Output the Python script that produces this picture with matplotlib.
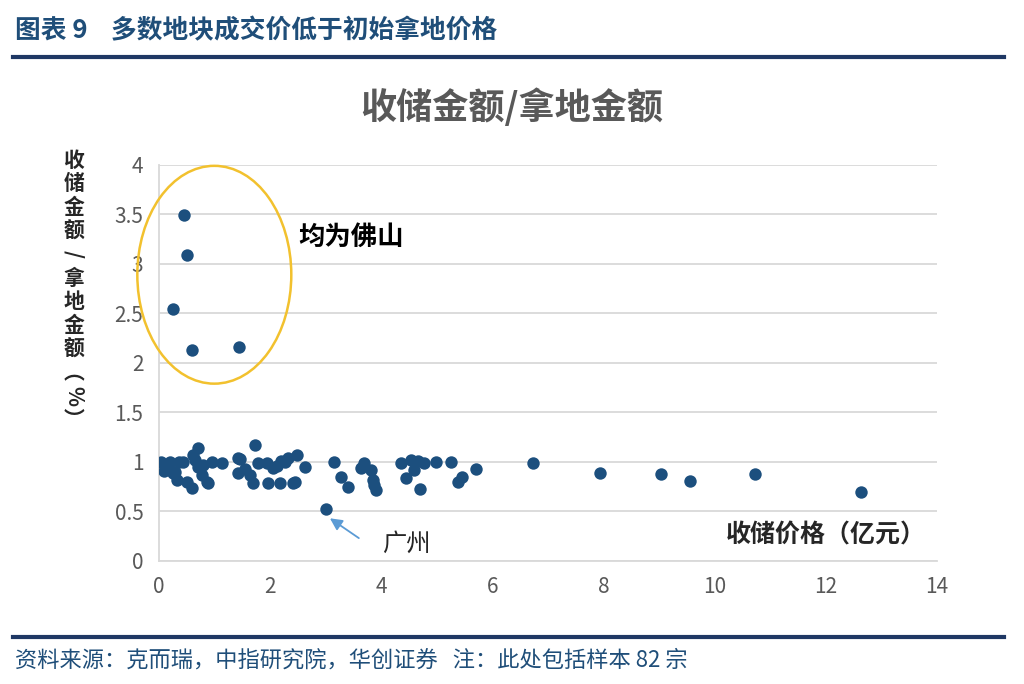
import matplotlib
matplotlib.use('Agg')
import matplotlib.pyplot as plt
from matplotlib.patches import Ellipse
from matplotlib.lines import Line2D

plt.rcParams['font.family'] = ['Noto Sans CJK SC', 'DejaVu Sans']

# 收储价格（亿元）
price = [0.45, 0.50, 0.25, 0.59, 1.44,
         0.05, 0.14, 0.20, 0.25, 0.29, 0.32, 0.36, 0.43, 0.50, 0.59,
         0.61, 0.65, 0.70, 0.70, 0.77, 0.86, 0.88, 0.95, 1.13, 1.42,
         1.46, 1.42, 1.64, 1.69, 1.73, 1.78, 1.94, 1.96, 2.05, 2.18,
         2.27, 2.32, 2.41, 2.48, 2.45, 2.63, 3.01, 3.15, 3.28, 3.40,
         3.64, 3.70, 3.82, 3.85, 3.88, 3.91, 4.36, 4.45, 4.54, 4.60,
         4.66, 4.70, 4.78, 4.99, 5.25, 5.38, 5.46, 5.70, 6.74, 7.93,
         9.03, 9.55, 10.72, 12.64, 0.10, 0.80, 1.55, 2.12, 2.20]
# 收储金额/拿地金额
ratio = [3.49, 3.09, 2.54, 2.13, 2.16,
         1.00, 0.93, 1.00, 0.89, 0.90, 0.82, 1.00, 1.00, 0.80, 0.74,
         1.07, 1.02, 1.14, 0.95, 0.87, 0.80, 0.79, 1.00, 0.99, 1.04,
         1.03, 0.89, 0.87, 0.79, 1.17, 0.99, 0.99, 0.79, 0.94, 0.79,
         1.00, 1.04, 0.79, 1.07, 0.80, 0.95, 0.52, 1.00, 0.85, 0.75,
         0.94, 0.99, 0.92, 0.82, 0.77, 0.72, 0.99, 0.84, 1.02, 0.92,
         1.01, 0.73, 0.99, 1.00, 1.00, 0.80, 0.85, 0.93, 0.99, 0.89,
         0.88, 0.81, 0.88, 0.70, 0.91, 0.97, 0.93, 0.96, 1.01]

x_ticks = [0, 2, 4, 6, 8, 10, 12, 14]
y_ticks = [0, 0.5, 1, 1.5, 2, 2.5, 3, 3.5, 4]
y_label = ['收', '储', '金', '额', '/', '拿', '地', '金', '额', '︵', '%', '︶']

navy = '#1f4e79'
dot = '#1c4f7e'
gray = '#595959'

fig = plt.figure(figsize=(10.24, 6.84), dpi=100)

# 表头与页脚
fig.text(0.015, 0.955, '图表 9    多数地块成交价低于初始拿地价格', color=navy,
         fontsize=18.5, fontweight='bold', va='center')
fig.add_artist(Line2D([0.013, 0.98], [0.917, 0.917], color='#1f3864', lw=3))
fig.add_artist(Line2D([0.013, 0.98], [0.069, 0.069], color='#1f3864', lw=3))
fig.text(0.015, 0.035, '资料来源：克而瑞，中指研究院，华创证券   注：此处包括样本 82 宗',
         color=navy, fontsize=16, va='center', style='italic')

fig.text(0.50, 0.842, '收储金额/拿地金额', color=gray, fontsize=26,
         fontweight='bold', ha='center', va='center')

ax = fig.add_axes([0.155, 0.18, 0.76, 0.579])
ax.scatter(price, ratio, s=80, color=dot, zorder=3, linewidths=0)

ax.set_xlim(0, 14)
ax.set_ylim(0, 4)
ax.set_xticks(x_ticks)
ax.set_yticks(y_ticks)
ax.set_yticklabels([('%g' % v) for v in y_ticks])
ax.grid(axis='y', color='#d9d9d9', lw=1.3, zorder=0)
ax.tick_params(length=0, labelsize=15, colors=gray, pad=11)
for s in ['top', 'right']:
    ax.spines[s].set_visible(False)
ax.spines['left'].set_color('#d9d9d9')
ax.spines['bottom'].set_color('#d9d9d9')
ax.spines['left'].set_linewidth(1.3)
ax.spines['bottom'].set_linewidth(1.3)

ell = Ellipse((1.0, 2.89), 2.77, 2.2, fill=False, edgecolor='#f2c12e',
              lw=1.8, clip_on=False, zorder=4)
ax.add_patch(ell)

ax.text(2.52, 3.27, '均为佛山', fontsize=19, fontweight='bold', color='black',
        va='center')
ax.annotate('', xy=(3.08, 0.43), xytext=(3.6, 0.23),
            arrowprops=dict(arrowstyle='-|>', color='#5b9bd5', lw=1.3,
                            shrinkA=0, shrinkB=0, mutation_scale=18))
ax.text(4.45, 0.17, '广州', fontsize=17.5, color='#262626', va='center',
        ha='center')
ax.text(13.8, 0.26, '收储价格（亿元）', fontsize=18, fontweight='bold',
        color='#262626', ha='right', va='center')

# 纵向的坐标轴标题
y0 = 0.766
for i, ch in enumerate(y_label):
    rot = -90 if ch in '/%' else 0
    fig.text(0.072, y0 - i * 0.0345, ch, fontsize=15, fontweight='bold',
             color='#262626', ha='center', va='center', rotation=rot)

fig.savefig('out.png', dpi=100)
